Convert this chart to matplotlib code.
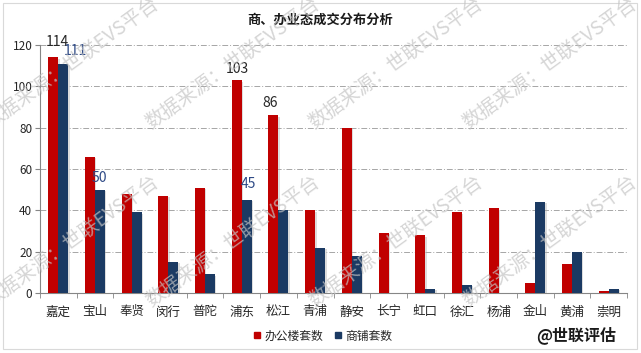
import matplotlib
matplotlib.use("Agg")
import matplotlib.pyplot as plt
import matplotlib.patheffects as pe
from matplotlib.lines import Line2D
from matplotlib.patches import Rectangle
import numpy as np

plt.rcParams['font.family'] = ['Noto Sans CJK SC', 'DejaVu Sans']

# 数据
DISTRICTS = ['嘉定', '宝山', '奉贤', '闵行', '普陀', '浦东', '松江', '青浦',
             '静安', '长宁', '虹口', '徐汇', '杨浦', '金山', '黄浦', '崇明']
OFFICE = [114, 66, 48, 47, 51, 103, 86, 40, 80, 29, 28, 39, 41, 5, 14, 1]
SHOP = [111, 50, 39, 15, 9, 45, 40, 22, 18, 0, 2, 4, 0, 44, 20, 2]
SERIES_NAMES = ['办公楼套数', '商铺套数']
TITLE = '商、办业态成交分布分析'
WATERMARK = '数据来源：世联EVS平台'
BRAND = '@世联评估'

# 只标注部分柱子: (系列, 序号) -> 偏移 (像素: 右, 上)
LABELED = {('office', 0): (4, 15), ('shop', 0): (12, 13), ('shop', 1): (-1, 12),
           ('office', 5): (1, 11), ('shop', 5): (2, 16), ('office', 6): (-3, 12.5)}

RED = '#C00000'
BLUE = '#1B3A63'

W, H = 641, 353
fig = plt.figure(figsize=(W / 100, H / 100), dpi=100)
fig.patch.set_facecolor('white')

ax = fig.add_axes([40 / W, 60 / H, 587 / W, 248 / H])
x = np.arange(len(DISTRICTS))
bw = 0.2725
shadow = [pe.SimplePatchShadow(offset=(1.0, -1.0), shadow_rgbFace='#aaaaaa', alpha=0.4), pe.Normal()]
b1 = ax.bar(x - bw / 2, OFFICE, bw, color=RED, zorder=3)
b2 = ax.bar(x + bw / 2, SHOP, bw, color=BLUE, zorder=3)
for b in list(b1) + list(b2):
    b.set_path_effects(shadow)

ax.set_xlim(-0.5, len(DISTRICTS) - 0.5)
ax.set_ylim(0, 120)
ax.set_yticks(range(0, 121, 20))
ax.set_xticks(x)
ax.set_xticklabels(DISTRICTS, fontsize=9, color='#262626')
ax.set_xticks(np.arange(-0.5, len(DISTRICTS)), minor=True)
ax.tick_params(axis='x', which='major', length=0, pad=9)
ax.tick_params(axis='x', which='minor', length=3.5, color='#868686', direction='out')
ax.tick_params(axis='y', length=3.5, color='#868686', pad=2, labelsize=8.5, labelcolor='#262626')
for s in ['top', 'right']:
    ax.spines[s].set_visible(False)
for s in ['left', 'bottom']:
    ax.spines[s].set_color('#868686')
    ax.spines[s].set_linewidth(0.8)
ax.yaxis.grid(True, linestyle=(0, (6, 2, 1, 2)), color='#a6a6a6', linewidth=0.7, zorder=0)
ax.set_axisbelow(True)

# 数据标签
px = 72 / 100
for (ser, i), (dx, dy) in LABELED.items():
    if ser == 'office':
        xv, yv, col = x[i] - bw / 2, OFFICE[i], '#262626'
    else:
        xv, yv, col = x[i] + bw / 2, SHOP[i], '#2E4A86'
    ax.annotate(str(yv), (xv, yv), xytext=(dx * px, dy * px), textcoords='offset points',
                ha='center', va='center', fontsize=10, color=col, zorder=5)

# 水印
for cy in [63, 241]:
    for cx in [72, 233, 396, 550]:
        fig.text(cx / W, 1 - cy / H, WATERMARK, rotation=36, rotation_mode='anchor',
                 ha='center', va='center', fontsize=14, color='#c4c4c4', alpha=0.7, zorder=10)

fig.text(320 / W, 1 - 20 / H, TITLE, ha='center', va='center', fontsize=9.5,
         fontweight='bold', color='#1a1a1a')

handles = [Line2D([], [], marker='s', linestyle='none', markersize=4.5, color=RED),
           Line2D([], [], marker='s', linestyle='none', markersize=4.5, color=BLUE)]
fig.legend(handles, SERIES_NAMES, loc='center', bbox_to_anchor=(323 / W, 1 - 336 / H), ncol=2,
           frameon=False, fontsize=8.5, handlelength=0.6, handletextpad=0.3, columnspacing=1.0,
           labelcolor='#262626')

fig.text(576 / W, 1 - 335 / H, BRAND, ha='center', va='center', fontsize=11.5,
         fontweight='bold', color='#1a1a1a')

fig.patches.append(Rectangle((3 / W, 4 / H), 634 / W, 346 / H, transform=fig.transFigure,
                             fill=False, edgecolor='#d9d9d9', linewidth=0.8))

fig.savefig('out.png', dpi=100)
